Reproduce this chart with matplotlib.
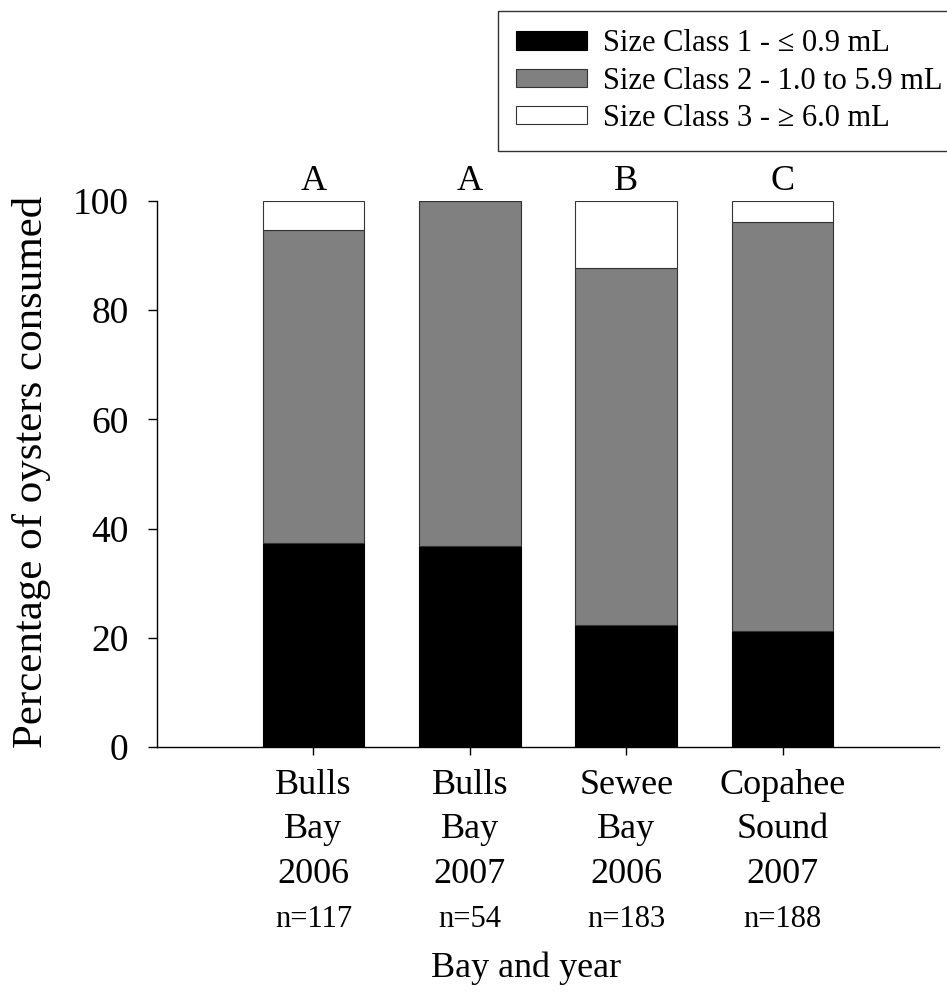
import matplotlib.pyplot as plt
import numpy as np

# values (percent of oysters consumed)
sites = ["Bulls\nBay\n2006", "Bulls\nBay\n2007", "Sewee\nBay\n2006", "Copahee\nSound\n2007"]
sample_sizes = ["n=117", "n=54", "n=183", "n=188"]
letters = ["A", "A", "B", "C"]
class1 = [37.4, 36.8, 22.3, 21.2]
class2 = [57.3, 63.2, 65.4, 75.0]
class3 = [5.3, 0.0, 12.3, 3.8]
class_labels = ["Size Class 1 - \u2264 0.9 mL",
                "Size Class 2 - 1.0 to 5.9 mL",
                "Size Class 3 - \u2265 6.0 mL"]

plt.rcParams["font.family"] = ["Liberation Serif", "DejaVu Serif"]

fig = plt.figure(figsize=(9.47, 10.02), dpi=100)
ax = fig.add_axes([0.1658, 0.2545, 0.8258, 0.5449])

x = np.arange(1, len(sites) + 1)
w = 0.65
b1 = ax.bar(x, class1, width=w, color="black", edgecolor="black", linewidth=0.8)
b2 = ax.bar(x, class2, bottom=class1, width=w, color="#808080", edgecolor="#333333", linewidth=0.8)
b3 = ax.bar(x, class3, bottom=np.add(class1, class2), width=w, color="white",
            edgecolor="#333333", linewidth=0.8)

ax.set_xlim(0, 5)
ax.set_ylim(0, 100)
ax.set_yticks([0, 20, 40, 60, 80, 100])
ax.set_xticks(x)
ax.set_xticklabels(sites, linespacing=1.46)
ax.spines[["top", "right"]].set_visible(False)
ax.spines["left"].set_linewidth(1.0)
ax.spines["bottom"].set_linewidth(1.0)
ax.tick_params(axis="y", length=6.5, width=1, pad=14, labelsize=27)
ax.tick_params(axis="x", length=5.5, width=1, pad=10, labelsize=26)

for xi, lt in zip(x, letters):
    ax.text(xi, 102, lt, ha="center", va="baseline", fontsize=26)

for xi, n in zip(x, sample_sizes):
    ax.text(xi, -0.316, n, transform=ax.get_xaxis_transform(), ha="center", va="center", fontsize=22)

fig.text(526 / 947, 0.034, "Bay and year", ha="center", va="center", fontsize=26)
fig.text(32 / 947, 1 - 472 / 1002, "Percentage of oysters consumed", rotation=90,
         ha="center", va="center", fontsize=31)

# legend box runs off the right edge in the original
leg = fig.legend([b1, b2, b3], class_labels, loc="upper left", bbox_to_anchor=(498 / 947, 1 - 11 / 1002),
                 fontsize=22, frameon=True, fancybox=False, edgecolor="#333333", framealpha=1,
                 handlelength=2.3, handleheight=0.55, labelspacing=0.27, borderpad=0.6,
                 handletextpad=0.55, borderaxespad=0)
leg.get_frame().set_linewidth(1.0)

fig.savefig("out.png", dpi=100)
